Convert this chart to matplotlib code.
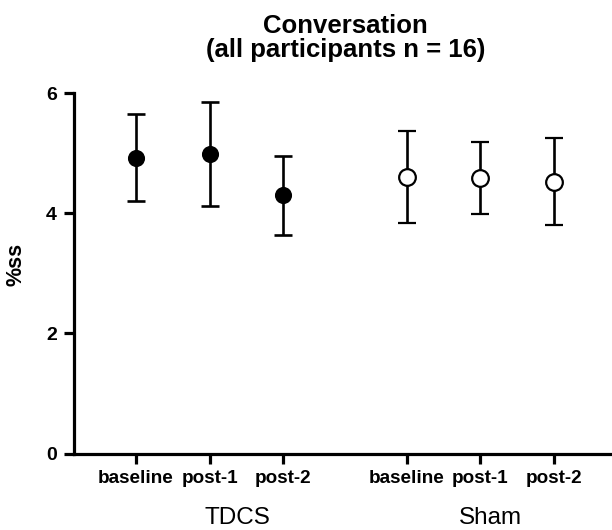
import matplotlib.pyplot as plt

conditions = ["baseline", "post-1", "post-2"]
groups = ["TDCS", "Sham"]
tdcs_mean = [4.93, 4.99, 4.30]
tdcs_sd = [0.72, 0.865, 0.655]
sham_mean = [4.61, 4.59, 4.53]
sham_sd = [0.77, 0.60, 0.725]
yticks = [0, 2, 4, 6]

plt.rcParams['font.family'] = ['Liberation Sans', 'DejaVu Sans']

fig = plt.figure(figsize=(6.12, 5.30), dpi=100)
ax = fig.add_axes([74 / 612, (530 - 453.5) / 530, (612 - 74) / 612, (453.5 - 93.3) / 530])

tdcs_x = [0, 1, 2]
sham_x = [3.68, 4.68, 5.68]

ax.errorbar(tdcs_x, tdcs_mean, yerr=tdcs_sd, fmt='o', color='black',
            markersize=11.3, elinewidth=1.9, capsize=6.8, capthick=1.9)
ax.errorbar(sham_x, sham_mean, yerr=sham_sd, fmt='o', color='black',
            markerfacecolor='white', markeredgewidth=1.6, markersize=12,
            elinewidth=1.9, capsize=6.8, capthick=1.9)

ax.set_xlim(-0.842, 6.467)
ax.set_ylim(0, 6)
ax.set_yticks(yticks)
ax.set_xticks(tdcs_x + sham_x)
ax.set_xticklabels(conditions + conditions)

for s in ['top', 'right']:
    ax.spines[s].set_visible(False)
for s in ['left', 'bottom']:
    ax.spines[s].set_linewidth(2.3)

ax.tick_params(axis='both', direction='out', length=7.2, width=2.3)
ax.tick_params(axis='y', pad=5, labelsize=14)
ax.tick_params(axis='x', pad=4.5, labelsize=13.6)
for lab in ax.get_xticklabels() + ax.get_yticklabels():
    lab.set_fontweight('bold')

ax.set_ylabel('%ss', fontsize=15.5, fontweight='bold')
ax.yaxis.set_label_coords((26 - 74) / 538, 0.525)

fig.text(345.5 / 612, 1 - 38 / 530, 'Conversation\n(all participants n = 16)',
         ha='center', va='center', fontsize=18.5, fontweight='bold', linespacing=1.05)

fig.text(237 / 612, 1 - 518 / 530, groups[0], ha='center', va='center', fontsize=17.5)
fig.text(490 / 612, 1 - 518 / 530, groups[1], ha='center', va='center', fontsize=17.5)

fig.savefig('out.png', dpi=100)
